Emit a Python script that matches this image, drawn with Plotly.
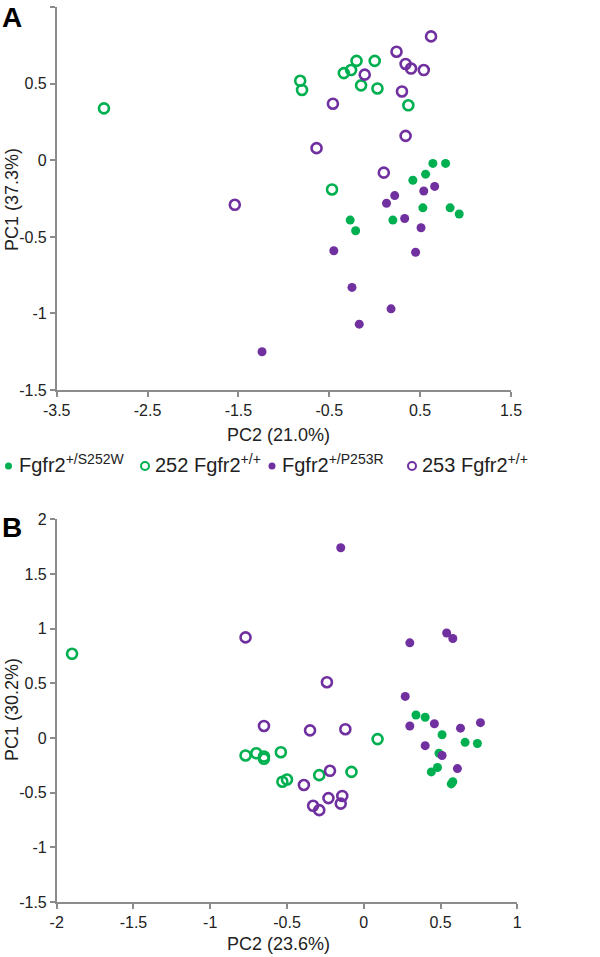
import plotly.graph_objects as go

GREEN = "#00b050"
PURPLE = "#7030a0"
AXIS = "#8c8c8c"
FONT = "Liberation Sans, Arial, sans-serif"

# ---- panel A (PC2 vs PC1) ----
a_s252w_x = [0.64, 0.78, 0.56, 0.42, 0.53, 0.83, 0.93, -0.27, -0.21, 0.20]
a_s252w_y = [-0.02, -0.02, -0.09, -0.13, -0.31, -0.31, -0.35, -0.39, -0.46, -0.39]

a_wt252_x = [-2.98, -0.82, -0.80, -0.34, -0.26, -0.20, -0.15, 0.00, 0.03, 0.37, -0.47]
a_wt252_y = [0.34, 0.52, 0.46, 0.57, 0.59, 0.65, 0.49, 0.65, 0.47, 0.36, -0.19]

a_p253r_x = [0.66, 0.54, 0.22, 0.13, 0.33, 0.51, 0.45, -0.45, -0.25, 0.18, -0.17, -1.24]
a_p253r_y = [-0.17, -0.20, -0.23, -0.28, -0.38, -0.44, -0.60, -0.59, -0.83, -0.97, -1.07, -1.25]

a_wt253_x = [0.62, 0.24, 0.34, 0.40, 0.54, -0.11, 0.30, -0.46, 0.34, -0.64, 0.10, -1.54]
a_wt253_y = [0.81, 0.71, 0.63, 0.60, 0.59, 0.56, 0.45, 0.37, 0.16, 0.08, -0.08, -0.29]

# ---- panel B ----
b_s252w_x = [0.34, 0.40, 0.51, 0.66, 0.74, 0.49, 0.48, 0.44, 0.57, 0.58]
b_s252w_y = [0.21, 0.19, 0.03, -0.04, -0.05, -0.14, -0.27, -0.31, -0.42, -0.40]

b_wt252_x = [-1.90, -0.77, -0.70, -0.65, -0.65, -0.54, -0.53, -0.50, -0.29, -0.08, 0.09]
b_wt252_y = [0.77, -0.16, -0.14, -0.17, -0.19, -0.13, -0.40, -0.38, -0.34, -0.31, -0.01]

b_p253r_x = [-0.15, 0.30, 0.54, 0.58, 0.27, 0.30, 0.46, 0.63, 0.76, 0.40, 0.51, 0.61]
b_p253r_y = [1.74, 0.87, 0.96, 0.91, 0.38, 0.11, 0.13, 0.09, 0.14, -0.07, -0.16, -0.28]

b_wt253_x = [-0.77, -0.24, -0.65, -0.35, -0.12, -0.22, -0.39, -0.23, -0.14, -0.15, -0.33, -0.29]
b_wt253_y = [0.92, 0.51, 0.11, 0.07, 0.08, -0.30, -0.43, -0.55, -0.53, -0.60, -0.62, -0.66]

# tick labels (plain hyphen minus, as in the original)
a_xticks = [-3.5, -2.5, -1.5, -0.5, 0.5, 1.5]
a_xlabels = ["-3.5", "-2.5", "-1.5", "-0.5", "0.5", "1.5"]
a_yticks = [-1.5, -1, -0.5, 0, 0.5, 1]
a_ylabels = ["-1.5", "-1", "-0.5", "0", "0.5", "1"]
b_xticks = [-2, -1.5, -1, -0.5, 0, 0.5, 1]
b_xlabels = ["-2", "-1.5", "-1", "-0.5", "0", "0.5", "1"]
b_yticks = [-1.5, -1, -0.5, 0, 0.5, 1, 1.5, 2]
b_ylabels = ["-1.5", "-1", "-0.5", "0", "0.5", "1", "1.5", "2"]

groups = ["Fgfr2<sup>+/S252W</sup>", "252 Fgfr2<sup>+/+</sup>",
          "Fgfr2<sup>+/P253R</sup>", "253 Fgfr2<sup>+/+</sup>"]
colors = [GREEN, GREEN, PURPLE, PURPLE]
symbols = ["circle", "circle-open", "circle", "circle-open"]

panels = [
    ("x", "y", [(a_s252w_x, a_s252w_y), (a_wt252_x, a_wt252_y),
                (a_p253r_x, a_p253r_y), (a_wt253_x, a_wt253_y)]),
    ("x2", "y2", [(b_s252w_x, b_s252w_y), (b_wt252_x, b_wt252_y),
                  (b_p253r_x, b_p253r_y), (b_wt253_x, b_wt253_y)]),
]

fig = go.Figure()
for xa, ya, series in panels:
    for (xs, ys), name, col, sym in zip(series, groups, colors, symbols):
        open_ = sym.endswith("open")
        fig.add_trace(go.Scatter(
            x=xs, y=ys, mode="markers", xaxis=xa, yaxis=ya, name=name,
            showlegend=False,
            marker=dict(symbol=sym, color=col, size=10 if open_ else 9,
                        line=dict(width=2.6 if open_ else 0, color=col)),
        ))

W = 600.0
H = 957.0


def fx(px):
    return px / W


def fy(py):
    return 1 - py / H


axis_common = dict(showgrid=False, zeroline=False, showline=True, linecolor=AXIS,
                   linewidth=1.5, ticks="outside", tickcolor=AXIS, ticklen=5,
                   tickwidth=1.5, tickfont=dict(size=16, color="#222", family=FONT))

fig.update_layout(
    width=W, height=H,
    margin=dict(l=0, r=0, t=0, b=0, autoexpand=False),
    paper_bgcolor="white", plot_bgcolor="white",
    font=dict(family=FONT, color="#222"),
    showlegend=False,
    xaxis=dict(domain=[fx(56.7), fx(511)], range=[-3.5, 1.5], tickvals=a_xticks,
               ticktext=a_xlabels, anchor="y", **axis_common),
    yaxis=dict(domain=[fy(390), fy(7.3)], range=[-1.5, 1],
               tickvals=a_yticks, ticktext=a_ylabels, anchor="x", **axis_common),
    xaxis2=dict(domain=[fx(56.7), fx(517.3)], range=[-2, 1], tickvals=b_xticks,
                ticktext=b_xlabels, anchor="y2", **axis_common),
    yaxis2=dict(domain=[fy(902), fy(519.3)], range=[-1.5, 2], tickvals=b_yticks,
                ticktext=b_ylabels, anchor="x2", **axis_common),
)

annots = [
    dict(text="PC2 (21.0%)", x=278, y=435, textangle=0),
    dict(text="PC1 (37.3%)", x=12, y=200, textangle=-90),
    dict(text="PC2 (23.6%)", x=278, y=944, textangle=0),
    dict(text="PC1 (30.2%)", x=12, y=710, textangle=-90),
]
for a in annots:
    fig.add_annotation(text=a["text"], x=fx(a["x"]), y=fy(a["y"]),
                       xref="paper", yref="paper",
                       showarrow=False, textangle=a["textangle"],
                       xanchor="center", yanchor="middle",
                       font=dict(size=18, color="#222", family=FONT))

# shared legend between the panels
leg_marker_x = [8.5, 145, 272, 412]
leg_y = 466
for name, col, sym, mx in zip(groups, colors, symbols, leg_marker_x):
    open_ = sym.endswith("open")
    r = 4 if open_ else 3.5
    fig.add_shape(type="circle", xref="paper", yref="paper",
                  x0=fx(mx - r), x1=fx(mx + r),
                  y0=fy(leg_y + r), y1=fy(leg_y - r),
                  fillcolor="white" if open_ else col,
                  line=dict(color=col, width=2 if open_ else 0))
    fig.add_annotation(text=name, x=fx(mx + 8), y=fy(leg_y - 3),
                       xref="paper", yref="paper", showarrow=False,
                       xanchor="left", yanchor="middle",
                       font=dict(size=20, color="#222", family=FONT))

for label, ypx in [("A", 17), ("B", 527)]:
    fig.add_annotation(text="<b>%s</b>" % label, x=fx(0), y=fy(ypx),
                       xref="paper", yref="paper", showarrow=False,
                       xanchor="left", yanchor="middle",
                       font=dict(size=28, color="black", family=FONT))

# drop the browser's default 8px page margin so the figure fills the window
fig.write_html("out.html", config={"displayModeBar": False},
               post_script="document.body.style.margin = '0';")
